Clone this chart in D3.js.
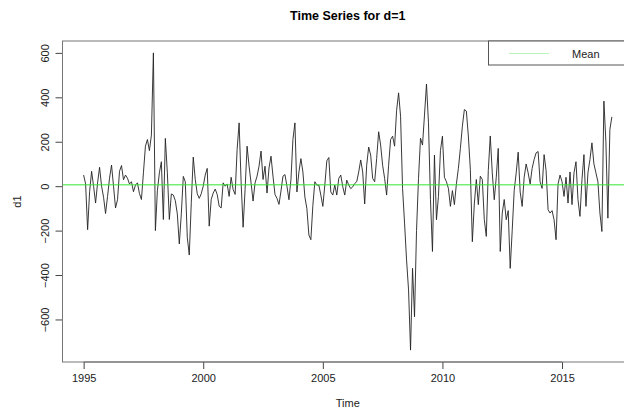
<!DOCTYPE html>
<html>
<head>
<meta charset="utf-8">
<script src="https://cdn.jsdelivr.net/npm/d3@7"></script>
<style>
  body { margin: 0; background: #fff; }
  text { font-family: "Liberation Sans", Arial, sans-serif; }
</style>
</head>
<body>
<div id="container"></div>
<script>
/* DATA */
const startYear = 1995,
  frequency = 12;

// first differences, one row per year (Jan..Dec)
const d1 = [
  50, 10, -196, -25, 67, -1, -76, 15, 85, 0, -50, -123,          // 1995
  -46, 36, 95, 0, -98, -61, 67, 93, 29, 50, 36, 10,              // 1996
  20, -25, 5, 15, -33, -60, 60, 180, 210, 160, 230, 600,         // 1997
  -200, -20, 60, 110, -150, 215, 60, -150, -35, -40, -65, -125,  // 1998
  -260, -125, 44, 20, -230, -310, -75, 131, 30, -34, -55, -34,   // 1999
  0, 50, 80, -180, -60, -31, -13, -37, -90, -98, 15, 0,          // 2000
  10, -46, 40, -15, -37, 165, 285, 20, -185, -15, 180, 90,       // 2001
  15, -67, 15, 45, 90, 158, 30, 90, -31, 82, 135, 45,            // 2002
  -37, -55, -82, -22, 45, 52, 0, -61, 30, 210, 285, -26,         // 2003
  64, 124, 64, -49, -101, -220, -241, -86, 20, 5, 5, -40,        // 2004
  -91, 5, 114, 129, -26, -40, 5, -40, 35, 50, -3, -40,           // 2005
  27, 5, -11, -3, 12, 20, 64, 118, 64, -80, 94, 176,             // 2006
  140, 35, 20, 124, 245, 185, 94, 35, -40, 94, 210, 225,         // 2007
  180, 340, 420, 315, -11, -166, -332, -467, -738, -370, -588, -200, // 2008
  35, 216, 185, 320, 460, 285, -61, -294, 140, -151, -46, 160,   // 2009
  225, 40, 20, -10, -91, -20, -83, 10, 80, 170, 270, 345,        // 2010
  338, 226, 76, -250, -80, 30, -83, 45, 30, -150, -226, 70,      // 2011
  226, 60, -61, 40, 170, -294, -121, -60, -151, -110, -370, -200, // 2012
  -20, 60, 153, -26, -91, 40, 100, 60, 10, 80, 120, 150,         // 2013
  156, 20, -10, 142, 70, -106, -121, -110, -151, -241, 10, 50,   // 2014
  20, -46, 40, -76, 64, -83, 60, 110, -60, -136, 30, 142,        // 2015
  -91, 60, 120, 195, 100, 60, 20, -121, -204, 383, 200, -144,    // 2016
  255, 312                                                       // 2017
];

const meanValue = 6;                       // abline(h = mean(d1))
const yTicks = [-600, -400, -200, 0, 200, 400, 600];
const xTicks = [1995, 2000, 2005, 2010, 2015];
const legendLabels = ["Mean"];

/* LAYOUT */
const width = 624,
  height = 412,
  margin = { top: 41, right: -9, bottom: 50, left: 62.5 };

const series = d1.map((v, i) => ({ t: startYear + i / frequency, v }));

// R style axes: data range padded by 4% on each side
const pad = ([a, b]) => [a - (b - a) * 0.04, b + (b - a) * 0.04];

const x = d3.scaleLinear()
  .domain(pad(d3.extent(series, d => d.t)))
  .range([margin.left, width - margin.right]);

const y = d3.scaleLinear()
  .domain(pad(d3.extent(series, d => d.v)))
  .range([height - margin.bottom, margin.top]);

const svg = d3.select("#container").append("svg")
  .attr("width", width)
  .attr("height", height)
  .style("display", "block");

const plotL = x.range()[0], plotR = x.range()[1],
  plotT = y.range()[1], plotB = y.range()[0];
const cx = (plotL + plotR) / 2;

// TITLE
svg.append("text")
  .attr("x", cx)
  .attr("y", 19.5)
  .attr("text-anchor", "middle")
  .attr("font-size", 12.5)
  .attr("font-weight", "bold")
  .text("Time Series for d=1");

// SERIES LINE
const line = d3.line()
  .x(d => x(d.t))
  .y(d => y(d.v));

svg.append("path")
  .datum(series)
  .attr("fill", "none")
  .attr("stroke", "#222")
  .attr("stroke-width", 0.9)
  .attr("stroke-linejoin", "round")
  .attr("d", line);

// MEAN LINE
svg.append("line")
  .attr("x1", plotL).attr("x2", plotR)
  .attr("y1", y(meanValue)).attr("y2", y(meanValue))
  .attr("stroke", "#33e633")
  .attr("stroke-width", 1);

// AXES
const xAxis = d3.axisBottom(x)
  .tickValues(xTicks)
  .tickFormat(d3.format("d"))
  .tickSize(7)
  .tickPadding(5);

svg.append("g")
  .attr("transform", `translate(0,${plotB})`)
  .call(xAxis)
  .call(g => g.select(".domain").attr("stroke", "#666")
    .attr("d", `M${x(xTicks[0])},0H${x(xTicks[xTicks.length - 1])}`))
  .call(g => g.selectAll(".tick line").attr("stroke", "#444"))
  .call(g => g.selectAll(".tick text")
    .attr("font-size", 11)
    .attr("font-family", "Liberation Sans, Arial, sans-serif")
    .attr("fill", "#222"));

const yAxis = d3.axisLeft(y)
  .tickValues(yTicks)
  .tickSize(7)
  .tickFormat(d3.format("d"));

const gy = svg.append("g")
  .attr("transform", `translate(${plotL},0)`)
  .call(yAxis)
  .call(g => g.select(".domain").attr("stroke", "#666")
    .attr("d", `M0,${y(yTicks[0])}V${y(yTicks[yTicks.length - 1])}`))
  .call(g => g.selectAll(".tick line").attr("stroke", "#444"));

gy.selectAll(".tick text")
  .attr("x", null).attr("dy", null)
  .attr("transform", "translate(-13.5,0) rotate(-90)")
  .attr("text-anchor", "middle")
  .attr("font-size", 11)
  .attr("font-family", "Liberation Sans, Arial, sans-serif")
  .attr("fill", "#222");

// AXIS TITLES
svg.append("text")
  .attr("x", cx)
  .attr("y", 407)
  .attr("text-anchor", "middle")
  .attr("font-size", 11)
  .attr("fill", "#222")
  .text("Time");

svg.append("text")
  .attr("transform", `translate(21,${(plotT + plotB) / 2}) rotate(-90)`)
  .attr("text-anchor", "middle")
  .attr("font-size", 11)
  .attr("fill", "#222")
  .text("d1");

// PLOT BOX
svg.append("rect")
  .attr("x", plotL).attr("y", plotT)
  .attr("width", plotR - plotL).attr("height", plotB - plotT)
  .attr("fill", "none")
  .attr("stroke", "#777")
  .attr("stroke-width", 1);

// LEGEND (topright)
const legendLeft = 488.5, legendBottom = 65;
const legend = svg.append("g");
legend.append("rect")
  .attr("x", legendLeft).attr("y", plotT)
  .attr("width", plotR - legendLeft).attr("height", legendBottom - plotT)
  .attr("fill", "#fff")
  .attr("stroke", "#555")
  .attr("stroke-width", 1);

legend.selectAll("g.item")
  .data(legendLabels)
  .join("g")
  .attr("class", "item")
  .each(function (d, i) {
    const g = d3.select(this),
      ly = plotT + 12.5 + i * 14;
    g.append("line")
      .attr("x1", 509).attr("x2", 549)
      .attr("y1", ly).attr("y2", ly)
      .attr("stroke", "#b8f5b8")
      .attr("stroke-width", 1);
    g.append("text")
      .attr("x", 572)
      .attr("y", ly + 4)
      .attr("font-size", 11)
      .attr("fill", "#222")
      .text(d);
  });
</script>
</body>
</html>
